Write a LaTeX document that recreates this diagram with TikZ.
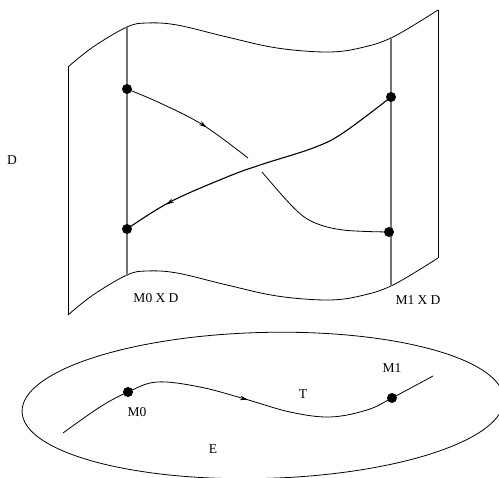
\documentclass[tikz,border=0pt]{standalone}
\usepackage{fontspec}
\setmainfont{Liberation Serif}
\usetikzlibrary{arrows.meta}
\begin{document}
\begin{tikzpicture}[x=1pt,y=-1pt,
  dot/.style={circle,fill=black,inner sep=0pt,minimum size=10pt},
  lbl/.style={font=\fontsize{13.5}{15}\selectfont,inner sep=0pt},
  edge/.style={line width=0.8pt,line join=round},
  fiber/.style={line width=1.1pt,draw=black!55},
  thick2/.style={line width=1.1pt},
  tip/.style={-{Stealth[length=8pt,width=4.5pt]},line width=0.8pt,shorten >=0pt}
]
\useasboundingbox (0,0) rectangle (499,478);

% sheet
\draw[edge] plot[smooth,tension=0.6] coordinates {(68,67) (93,47) (127,27) (147,23) (177,25) (227,37) (277,48) (327,52) (360,48) (393,37) (438,10)};
\draw[edge,yshift=-248pt] plot[smooth,tension=0.6] coordinates {(68,67) (93,47) (127,27) (147,23) (177,25) (227,37) (277,48) (327,52) (360,48) (393,37) (438,10)};
\draw[edge] (68,67) -- (68,315);
\draw[edge] (438,10) -- (438,258);

% fibers
\coordinate (f0t) at (127,27);
\coordinate (f0b) at (127,276);
\coordinate (f1t) at (391,37);
\coordinate (f1b) at (391,286);
\draw[fiber] (f0t) -- (f0b);
\draw[fiber] (f1t) -- (f1b);

% dots
\node[dot] (A) at (127,89) {};
\node[dot] (B) at (127,229) {};
\node[dot] (C) at (391,97) {};
\node[dot] (D) at (389,232) {};

\coordinate (g1) at (248,158);
\coordinate (g2) at (262,172);
\draw[edge] plot[smooth,tension=0.6] coordinates {(A.center) (160,103) (203,125) (g1)};
\draw[edge] plot[smooth,tension=0.6] coordinates {(g2) (293,207) (313,222) (343,230) (D.center)};
\draw[thick2] plot[smooth,tension=0.6] coordinates {(B.center) (170,202) (227,177) (260,165) (313,148) (343,133) (C.center)};
\coordinate (a1s) at (205,126.2);
\coordinate (a1e) at (206.7,127.3);
\draw[tip] (a1s) -- (a1e);
\coordinate (a2s) at (168,203.5);
\coordinate (a2e) at (166.3,204.6);
\draw[tip] (a2s) -- (a2e);

\node[lbl] (l0) at (156,298) {M0 X D};
\node[lbl] (l1) at (418,300) {M1 X D};
\node[lbl] (lD) at (12,160) {D};

% base
\coordinate (ec) at (263,405.5);
\draw[edge,rotate around={1.5:(ec)}] (ec) ellipse[x radius=241pt,y radius=73pt];
\node[dot] (m0) at (128,392) {};
\node[dot] (m1) at (392,398) {};
\coordinate (ts) at (63,433);
\coordinate (te) at (433,376);
\draw[edge] plot[smooth,tension=0.6] coordinates {(ts) (100,407) (m0.center) (157,382) (200,387) (245,399) (290,412) (330,417) (367,410) (m1.center) (te)};
\coordinate (a3s) at (246,399.3);
\coordinate (a3e) at (248,399.8);
\draw[tip] (a3s) -- (a3e);
\node[lbl] (lm0) at (137,412) {M0};
\node[lbl] (lT) at (303,394) {T};
\node[lbl] (lm1) at (392,368) {M1};
\node[lbl] (lE) at (213,449) {E};
\end{tikzpicture}
\end{document}
